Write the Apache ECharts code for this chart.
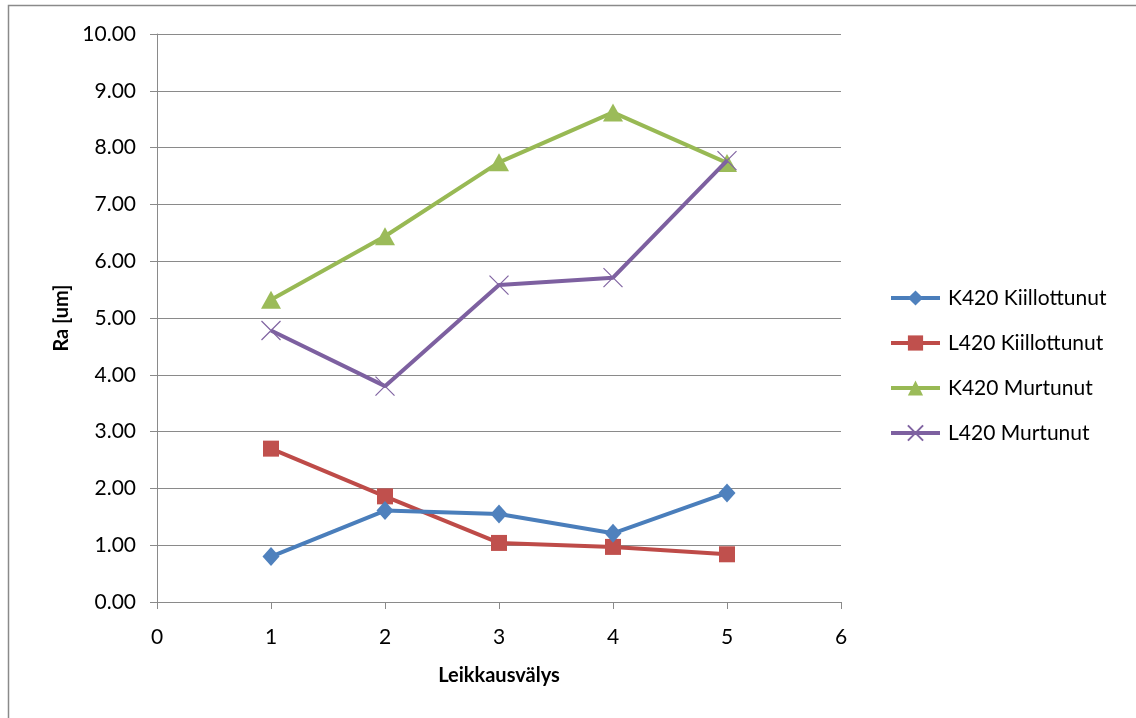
<!DOCTYPE html>
<html>
<head>
<meta charset="utf-8">
<script src="https://cdn.jsdelivr.net/npm/echarts@6/dist/echarts.min.js"></script>
<style>
  html, body { margin: 0; padding: 0; background: #fff; }
  #chart { width: 1136px; height: 718px; }
</style>
</head>
<body>
<div id="chart"></div>
<script>
// Leikkausvälys (x) and Ra [um] per sample
const xValues = [1, 2, 3, 4, 5];
const k420Kiillottunut = [0.80, 1.61, 1.55, 1.21, 1.92];
const l420Kiillottunut = [2.70, 1.86, 1.04, 0.97, 0.84];
const k420Murtunut = [5.32, 6.44, 7.74, 8.62, 7.73];
const l420Murtunut = [4.78, 3.80, 5.58, 5.71, 7.77];
const seriesNames = ['K420 Kiillottunut', 'L420 Kiillottunut', 'K420 Murtunut', 'L420 Murtunut'];

const FONT = 'Lato';
const GRID_COLOR = '#8a8a8a';

function pairs(ys) { return xValues.map((x, i) => [x, ys[i]]); }

const crossPath = 'path://M0,0L10,10M10,0L0,10';

const chart = echarts.init(document.getElementById('chart'), null, { renderer: 'canvas' });
chart.setOption({
  animation: false,
  backgroundColor: '#fff',
  textStyle: { fontFamily: FONT, color: '#000' },
  grid: { left: 157, right: 295, top: 34, bottom: 116, containLabel: false },
  xAxis: {
    type: 'value', min: 0, max: 6, interval: 1,
    name: 'Leikkausvälys', nameLocation: 'middle', nameGap: 64,
    nameTextStyle: { fontFamily: FONT, fontWeight: 'bold', fontSize: 20, color: '#000' },
    axisLine: { show: true, lineStyle: { color: GRID_COLOR, width: 1 } },
    axisTick: { show: true, inside: false, length: 7, lineStyle: { color: GRID_COLOR } },
    axisLabel: { fontFamily: FONT, fontSize: 21, color: '#000', margin: 25 },
    splitLine: { show: false }
  },
  yAxis: {
    type: 'value', min: 0, max: 10, interval: 1,
    name: 'Ra [um]', nameLocation: 'middle', nameGap: 84, nameRotate: 90,
    nameTextStyle: { fontFamily: FONT, fontWeight: 'bold', fontSize: 20, color: '#000' },
    axisLine: { show: true, lineStyle: { color: GRID_COLOR, width: 1 } },
    axisTick: { show: true, inside: false, length: 7, lineStyle: { color: GRID_COLOR } },
    axisLabel: { fontFamily: FONT, fontSize: 21, color: '#000', margin: 21,
      formatter: v => v.toFixed(2) },
    splitLine: { show: true, lineStyle: { color: GRID_COLOR, width: 1 } }
  },
  legend: {
    orient: 'vertical', left: 884, top: 281,
    itemWidth: 49, itemHeight: 19, itemGap: 21,
    lineStyle: { width: 4 },
    textStyle: { fontFamily: FONT, fontSize: 21, color: '#000', lineHeight: 24, padding: [0, 0, 0, 3] },
    data: seriesNames
  },
  series: [
    {
      name: seriesNames[0], type: 'line', data: pairs(k420Kiillottunut),
      symbol: 'diamond', symbolSize: [17, 19],
      lineStyle: { color: '#4a7ebb', width: 4 },
      itemStyle: { color: '#4f81bd' }, z: 5
    },
    {
      name: seriesNames[1], type: 'line', data: pairs(l420Kiillottunut),
      symbol: 'rect', symbolSize: 16,
      lineStyle: { color: '#be4b48', width: 4 },
      itemStyle: { color: '#c0504d' }, z: 4
    },
    {
      name: seriesNames[2], type: 'line', data: pairs(k420Murtunut),
      symbol: 'triangle', symbolSize: [20, 18],
      lineStyle: { color: '#98b954', width: 4 },
      itemStyle: { color: '#9bbb59' }, z: 3
    },
    {
      name: seriesNames[3], type: 'line', data: pairs(l420Murtunut),
      symbol: crossPath, symbolSize: 19,
      lineStyle: { color: '#7d60a0', width: 4 },
      itemStyle: { color: '#8064a2', borderColor: '#8064a2', borderWidth: 1.2 }, z: 6
    }
  ],
  graphic: [
    {
      type: 'rect', silent: true, z: -10,
      shape: { x: 8.5, y: 5.5, width: 1300, height: 900 },
      style: { fill: 'none', stroke: '#8a8a8a', lineWidth: 1.5 }
    }
  ]
});
</script>
</body>
</html>
